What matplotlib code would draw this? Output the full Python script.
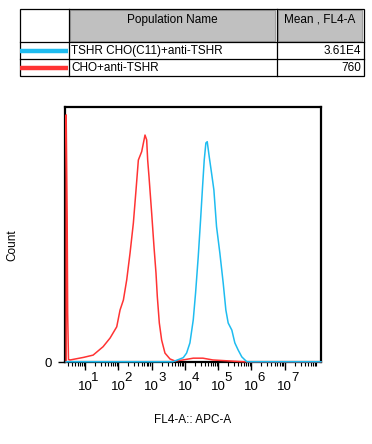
import numpy as np
import matplotlib
matplotlib.use("Agg")
import matplotlib.pyplot as plt
from matplotlib.patches import Rectangle
from matplotlib.ticker import LogLocator, NullFormatter

plt.rcParams['font.family'] = ['Liberation Sans', 'DejaVu Sans']

# histogram data, x in log10 decades, y as fraction of plot height
red_logx = [0.43, 0.43, 0.46, 0.475, 0.50, 0.55, 0.95, 1.24, 1.54, 1.75, 1.95, 2.05, 2.15,
            2.25, 2.35, 2.45, 2.53, 2.60, 2.70, 2.80, 2.85, 2.88, 2.92, 3.00, 3.07,
            3.13, 3.17, 3.23, 3.30, 3.40, 3.55, 3.70, 3.94, 4.25, 4.54, 4.84, 5.35, 5.74, 8.09]
red_y = [0.001, 0.969, 0.565, 0.19, 0.01, 0.008, 0.018, 0.027, 0.06, 0.094, 0.138, 0.204, 0.243,
         0.322, 0.427, 0.545, 0.675, 0.792, 0.825, 0.89, 0.871, 0.792, 0.727, 0.584, 0.452,
         0.349, 0.256, 0.153, 0.086, 0.035, 0.012, 0.004, 0.008, 0.015, 0.015, 0.008, 0.004, 0.001, 0.001]

cyan_logx = [0.43, 3.64, 3.95, 4.05, 4.15, 4.25, 4.32, 4.40, 4.47, 4.53, 4.58, 4.63, 4.67,
             4.73, 4.80, 4.87, 4.95, 5.05, 5.15, 5.23, 5.30, 5.41, 5.50, 5.60, 5.71, 5.86, 8.09]
cyan_y = [0.001, 0.001, 0.017, 0.035, 0.075, 0.165, 0.271, 0.413, 0.557, 0.688, 0.792, 0.859, 0.864,
          0.805, 0.741, 0.675, 0.531, 0.427, 0.310, 0.204, 0.153, 0.125, 0.075, 0.047, 0.020, 0.001, 0.001]

decades = [1, 2, 3, 4, 5, 6, 7]

pop_names = ["TSHR CHO(C11)+anti-TSHR", "CHO+anti-TSHR"]
pop_means = ["3.61E4", "760"]
pop_colors = ["#1ebcf0", "#ff3333"]

W, H = 372, 444
fig = plt.figure(figsize=(W / 100, H / 100), dpi=100)

# pixel helper for axes position
def px_axes(x0, y0, x1, y1):
    return [x0 / W, 1 - y1 / H, (x1 - x0) / W, (y1 - y0) / H]

ax = fig.add_axes(px_axes(64.5, 107, 321, 362))
ax.plot(10 ** np.array(red_logx), red_y, color=pop_colors[1], lw=1.1, clip_on=False, zorder=3)
ax.plot(10 ** np.array(cyan_logx), cyan_y, color=pop_colors[0], lw=1.1, clip_on=False, zorder=4)
ax.set_xscale('log')
ax.set_xlim(10 ** 0.38, 10 ** 8.09)
ax.set_ylim(0, 1)
ax.set_xticks([10 ** n for n in decades])
ax.set_xticklabels(['10'] * len(decades), fontsize=9.5)
ax.xaxis.set_minor_locator(LogLocator(base=10, subs=np.arange(2, 10), numticks=100))
ax.xaxis.set_minor_formatter(NullFormatter())
# superscripts drawn at full size, like the cytometer software does
for n in decades:
    ax.annotate(str(n), xy=(10 ** n, 0), xycoords=('data', 'axes fraction'),
                xytext=(7.2, -11.3), textcoords='offset points',
                ha='center', va='center', fontsize=9.5)
ax.set_yticks([0])
ax.set_yticklabels(['0'], fontsize=9.5)
ax.tick_params(axis='x', which='major', length=5.5, width=1, direction='out', pad=8)
ax.tick_params(axis='x', which='minor', length=3, width=0.8, direction='out')
ax.tick_params(axis='y', length=5, width=1, direction='out', pad=4)
for s in ax.spines.values():
    s.set_linewidth(1.6)

fig.text(12 / W, 1 - 245 / H, "Count", rotation=90, ha='center', va='center', fontsize=8.5)
fig.text(193 / W, 1 - 420 / H, "FL4-A:: APC-A", ha='center', va='center', fontsize=8.5)

# table overlay in pixel coordinates
tab = fig.add_axes([0, 0, 1, 1], zorder=5)
tab.set_xlim(0, W)
tab.set_ylim(H, 0)
tab.axis('off')
tab.patch.set_alpha(0)

tab.add_patch(Rectangle((70, 10.5), 205, 30.5, facecolor='#c0c0c0', edgecolor='#a0a0a0', lw=0.8))
tab.add_patch(Rectangle((278, 10.5), 84, 30.5, facecolor='#c0c0c0', edgecolor='#a0a0a0', lw=0.8))
tab.add_patch(Rectangle((19.5, 9.5), 344, 67, facecolor='none', edgecolor='black', lw=0.9))
for xv in [68.5, 276.5]:
    tab.plot([xv, xv], [9.5, 76.5], color='black', lw=0.9)
for yv in [42.5, 59]:
    tab.plot([19.5, 363.5], [yv, yv], color='black', lw=0.9)

tab.text(172, 20, "Population Name", ha='center', va='center', fontsize=8.5)
tab.text(320, 20, "Mean , FL4-A", ha='center', va='center', fontsize=8.5)
row_y = [51, 68]
for name, mean, col, yy in zip(pop_names, pop_means, pop_colors, row_y):
    tab.plot([20, 67.5], [yy, yy], color=col, lw=3.2, solid_capstyle='butt')
    tab.text(71, yy, name, ha='left', va='center', fontsize=8.5)
    tab.text(361, yy, mean, ha='right', va='center', fontsize=8.5)

fig.savefig("out.png", dpi=100)
